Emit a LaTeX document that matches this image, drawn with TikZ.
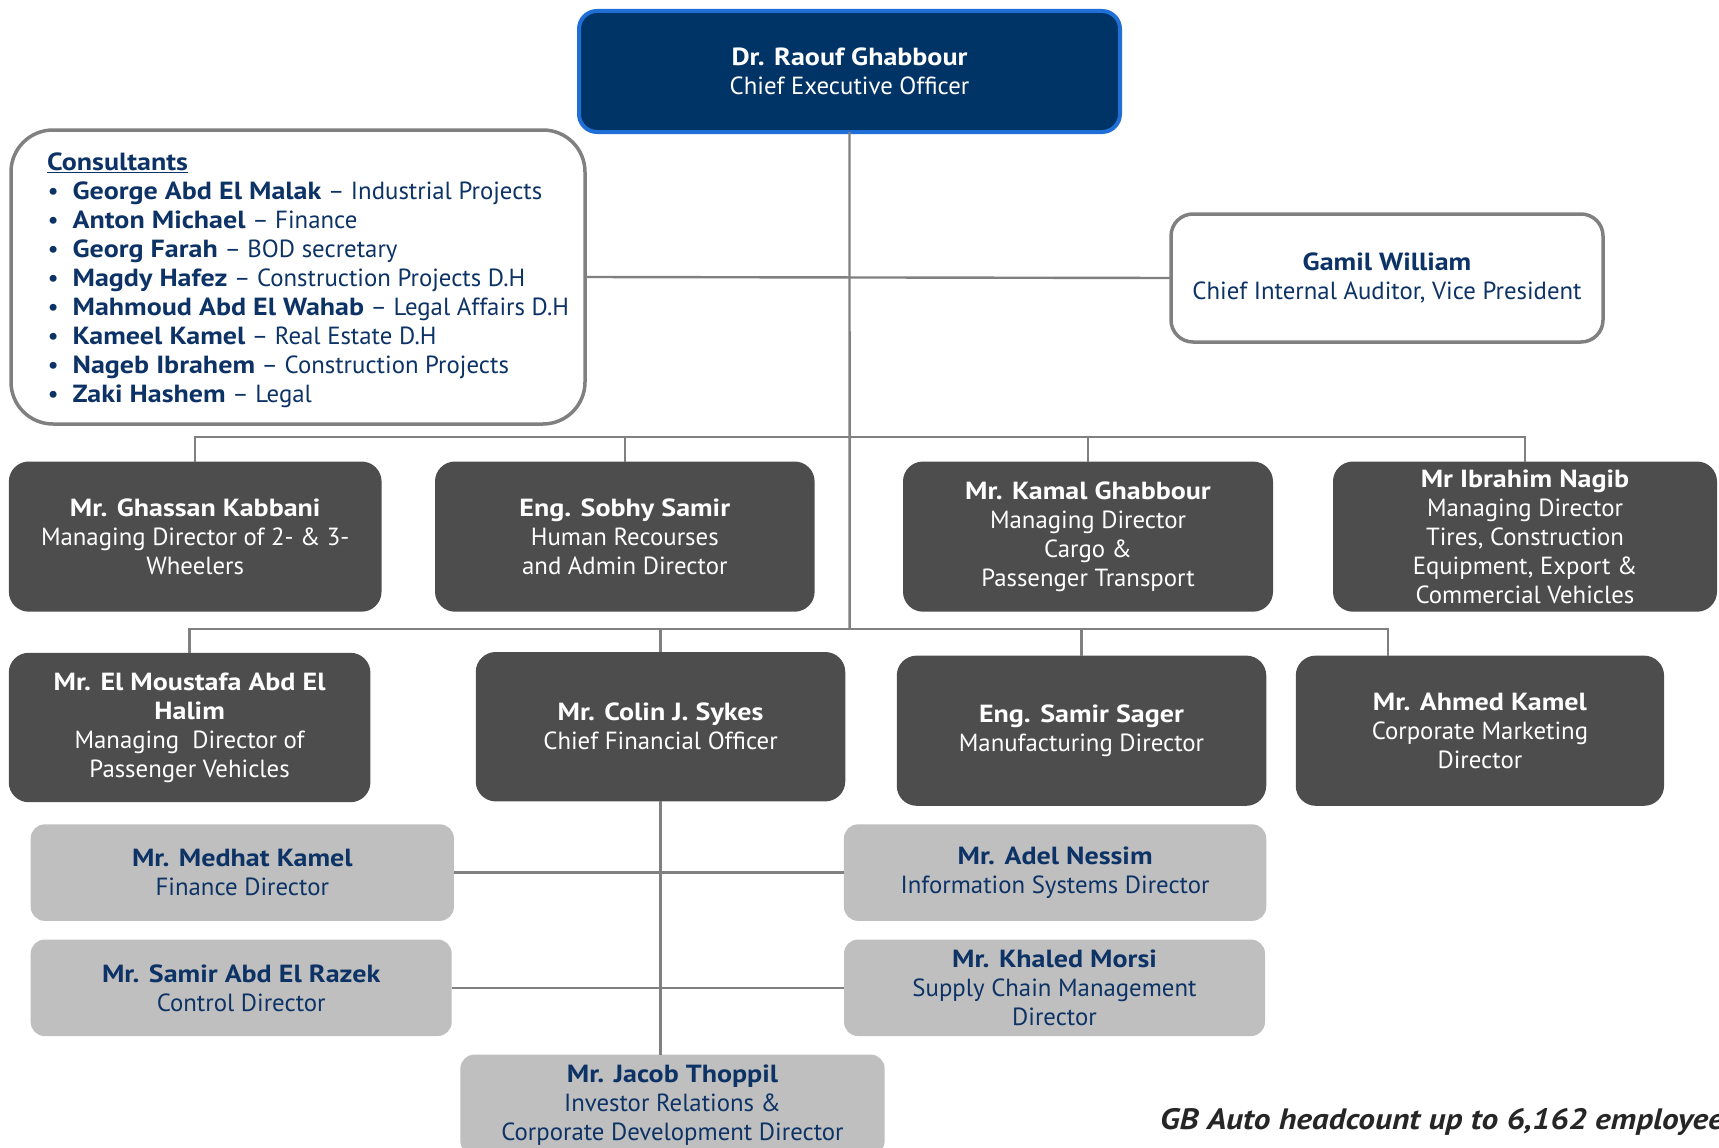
\documentclass[tikz,border=0pt]{standalone}
\usepackage{fontspec}
\setmainfont{PT Sans}[BoldFeatures={FakeStretch=1.13},BoldItalicFeatures={FakeStretch=1.13}]
\definecolor{navyfill}{HTML}{003366}
\definecolor{ceoborder}{HTML}{1F6FD6}
\definecolor{darkfill}{HTML}{4D4D4D}
\definecolor{lightfill}{HTML}{BFBFBF}
\definecolor{linegray}{HTML}{808080}
\definecolor{navytext}{HTML}{0D3366}
\definecolor{foottext}{HTML}{262626}
\tikzset{
  txt/.style={align=center, inner sep=0pt, outer sep=0pt, font=\fontsize{24.8}{29}\selectfont},
  ceobox/.style={txt, fill=navyfill, draw=ceoborder, line width=4pt, rounded corners=18pt, text=white},
  whitebox/.style={txt, fill=white, draw=linegray, line width=3.5pt, text=navytext},
  darkbox/.style={txt, fill=darkfill, rounded corners=20pt, text=white},
  lightbox/.style={txt, fill=lightfill, rounded corners=14pt, text=navytext},
  conn/.style={draw=linegray, line width=2.4pt},
  consline/.style={anchor=base west, inner sep=0pt, text=navytext, font=\fontsize{24.8}{29}\selectfont},
}
\begin{document}
\begin{tikzpicture}[x=1pt,y=-1pt]
\useasboundingbox (0,0) rectangle (1719,1148);
\coordinate (t1) at (849.6,437);
\coordinate (t2) at (849.6,629);
\coordinate (ad) at (1388,655.6);

% boxes
\node[ceobox, minimum width=541pt, minimum height=121pt] (ceo) at (849.5,71.5)
  {\textbf{Dr. Raouf Ghabbour}\\Chief Executive Officer};
\node[whitebox, rounded corners=42pt, minimum width=574pt, minimum height=294pt] (cons) at (298,277) {};
\node[whitebox, rounded corners=22pt, minimum width=432pt, minimum height=128pt] (gamil) at (1387,278)
  {\textbf{Gamil William}\\Chief Internal Auditor, Vice President};

\node[darkbox, minimum width=372.7pt, minimum height=150.2pt] (ghassan) at (195.2,536.6)
  {\textbf{Mr. Ghassan Kabbani}\\Managing Director of 2- \& 3-\\Wheelers};
\node[darkbox, minimum width=379.6pt, minimum height=150.2pt] (sobhy) at (624.8,536.6)
  {\textbf{Eng. Sobhy Samir}\\Human Recourses\\and Admin Director};
\node[darkbox, minimum width=370pt, minimum height=150.2pt] (kamal) at (1088,536.6)
  {\textbf{Mr. Kamal Ghabbour}\\Managing Director\\Cargo \&\\Passenger Transport};
\node[darkbox, minimum width=384pt, minimum height=150.2pt] (ibrahim) at (1525,536.6)
  {\textbf{Mr Ibrahim Nagib}\\Managing Director\\Tires, Construction\\Equipment, Export \&\\Commercial Vehicles};

\node[darkbox, minimum width=361.7pt, minimum height=149.4pt] (elm) at (189.6,727.5)
  {\textbf{Mr. El Moustafa Abd El}\\\textbf{Halim}\\Managing\ \ Director of\\Passenger Vehicles};
\node[darkbox, minimum width=369.5pt, minimum height=149.4pt] (colin) at (660.5,726.7)
  {\textbf{Mr. Colin J. Sykes}\\Chief Financial Officer};
\node[darkbox, minimum width=369.5pt, minimum height=150.2pt] (samirs) at (1081.5,730.7)
  {\textbf{Eng. Samir Sager}\\Manufacturing Director};
\node[darkbox, minimum width=368.3pt, minimum height=150.2pt] (ahmed) at (1479.9,730.7)
  {\textbf{Mr. Ahmed Kamel}\\Corporate Marketing\\Director};

\node[lightbox, minimum width=423.2pt, minimum height=96.5pt] (medhat) at (242.3,872.6)
  {\textbf{Mr. Medhat Kamel}\\Finance Director};
\node[lightbox, minimum width=422.3pt, minimum height=96.5pt] (adel) at (1055.1,872.6)
  {\textbf{Mr. Adel Nessim}\\Information Systems Director};
\node[lightbox, minimum width=421pt, minimum height=96.5pt] (samirr) at (241.2,987.8)
  {\textbf{Mr. Samir Abd El Razek}\\Control Director};
\node[lightbox, minimum width=421pt, minimum height=96.5pt] (khaled) at (1054.5,987.8)
  {\textbf{Mr. Khaled Morsi}\\Supply Chain Management\\Director};
\node[lightbox, minimum width=424.3pt, minimum height=100.4pt] (jacob) at (672.5,1104.8)
  {\textbf{Mr. Jacob Thoppil}\\Investor Relations \&\\Corporate Development Director};

% consultants text
\node[consline] (c0) at (47,170) {\textbf{\underline{Consultants}}};
\foreach \i/\n/\r in {1/George Abd El Malak/Industrial Projects,
                      2/Anton Michael/Finance,
                      3/Georg Farah/BOD secretary,
                      4/Magdy Hafez/Construction Projects D.H,
                      5/Mahmoud Abd El Wahab/Legal Affairs D.H,
                      6/Kameel Kamel/Real Estate D.H,
                      7/Nageb Ibrahem/Construction Projects,
                      8/Zaki Hashem/Legal}{
  \node[consline] (b\i) at (47.5,170+29.1*\i) {\textbullet};
  \node[consline] (c\i) at (72.4,170+29.1*\i) {\textbf{\n} -- \r};
}

% footer
\node[anchor=base west, inner sep=0pt, text=foottext, font=\fontsize{29.5}{33}\selectfont\bfseries\itshape] (foot) at (1160,1129)
  {GB Auto headcount up to 6,162 employees};

% connectors
\draw[conn] (cons.east) -- (gamil.west);
\draw[conn] (ceo.south) -- (t2);
\draw[conn] (ghassan.north) |- (ibrahim.north |- t1) -- (ibrahim.north);
\draw[conn] (sobhy.north) -- (sobhy.north |- t1);
\draw[conn] (kamal.north) -- (kamal.north |- t1);
\draw[conn] (elm.north) |- (ad |- t2) -- (ad);
\draw[conn] (colin.north) -- (colin.north |- t2);
\draw[conn] (samirs.north) -- (samirs.north |- t2);
\draw[conn] (colin.south) -- (colin.south |- jacob.north);
\draw[conn] (medhat.east) -- (adel.west);
\draw[conn] (samirr.east) -- (khaled.west);
\end{tikzpicture}
\end{document}
